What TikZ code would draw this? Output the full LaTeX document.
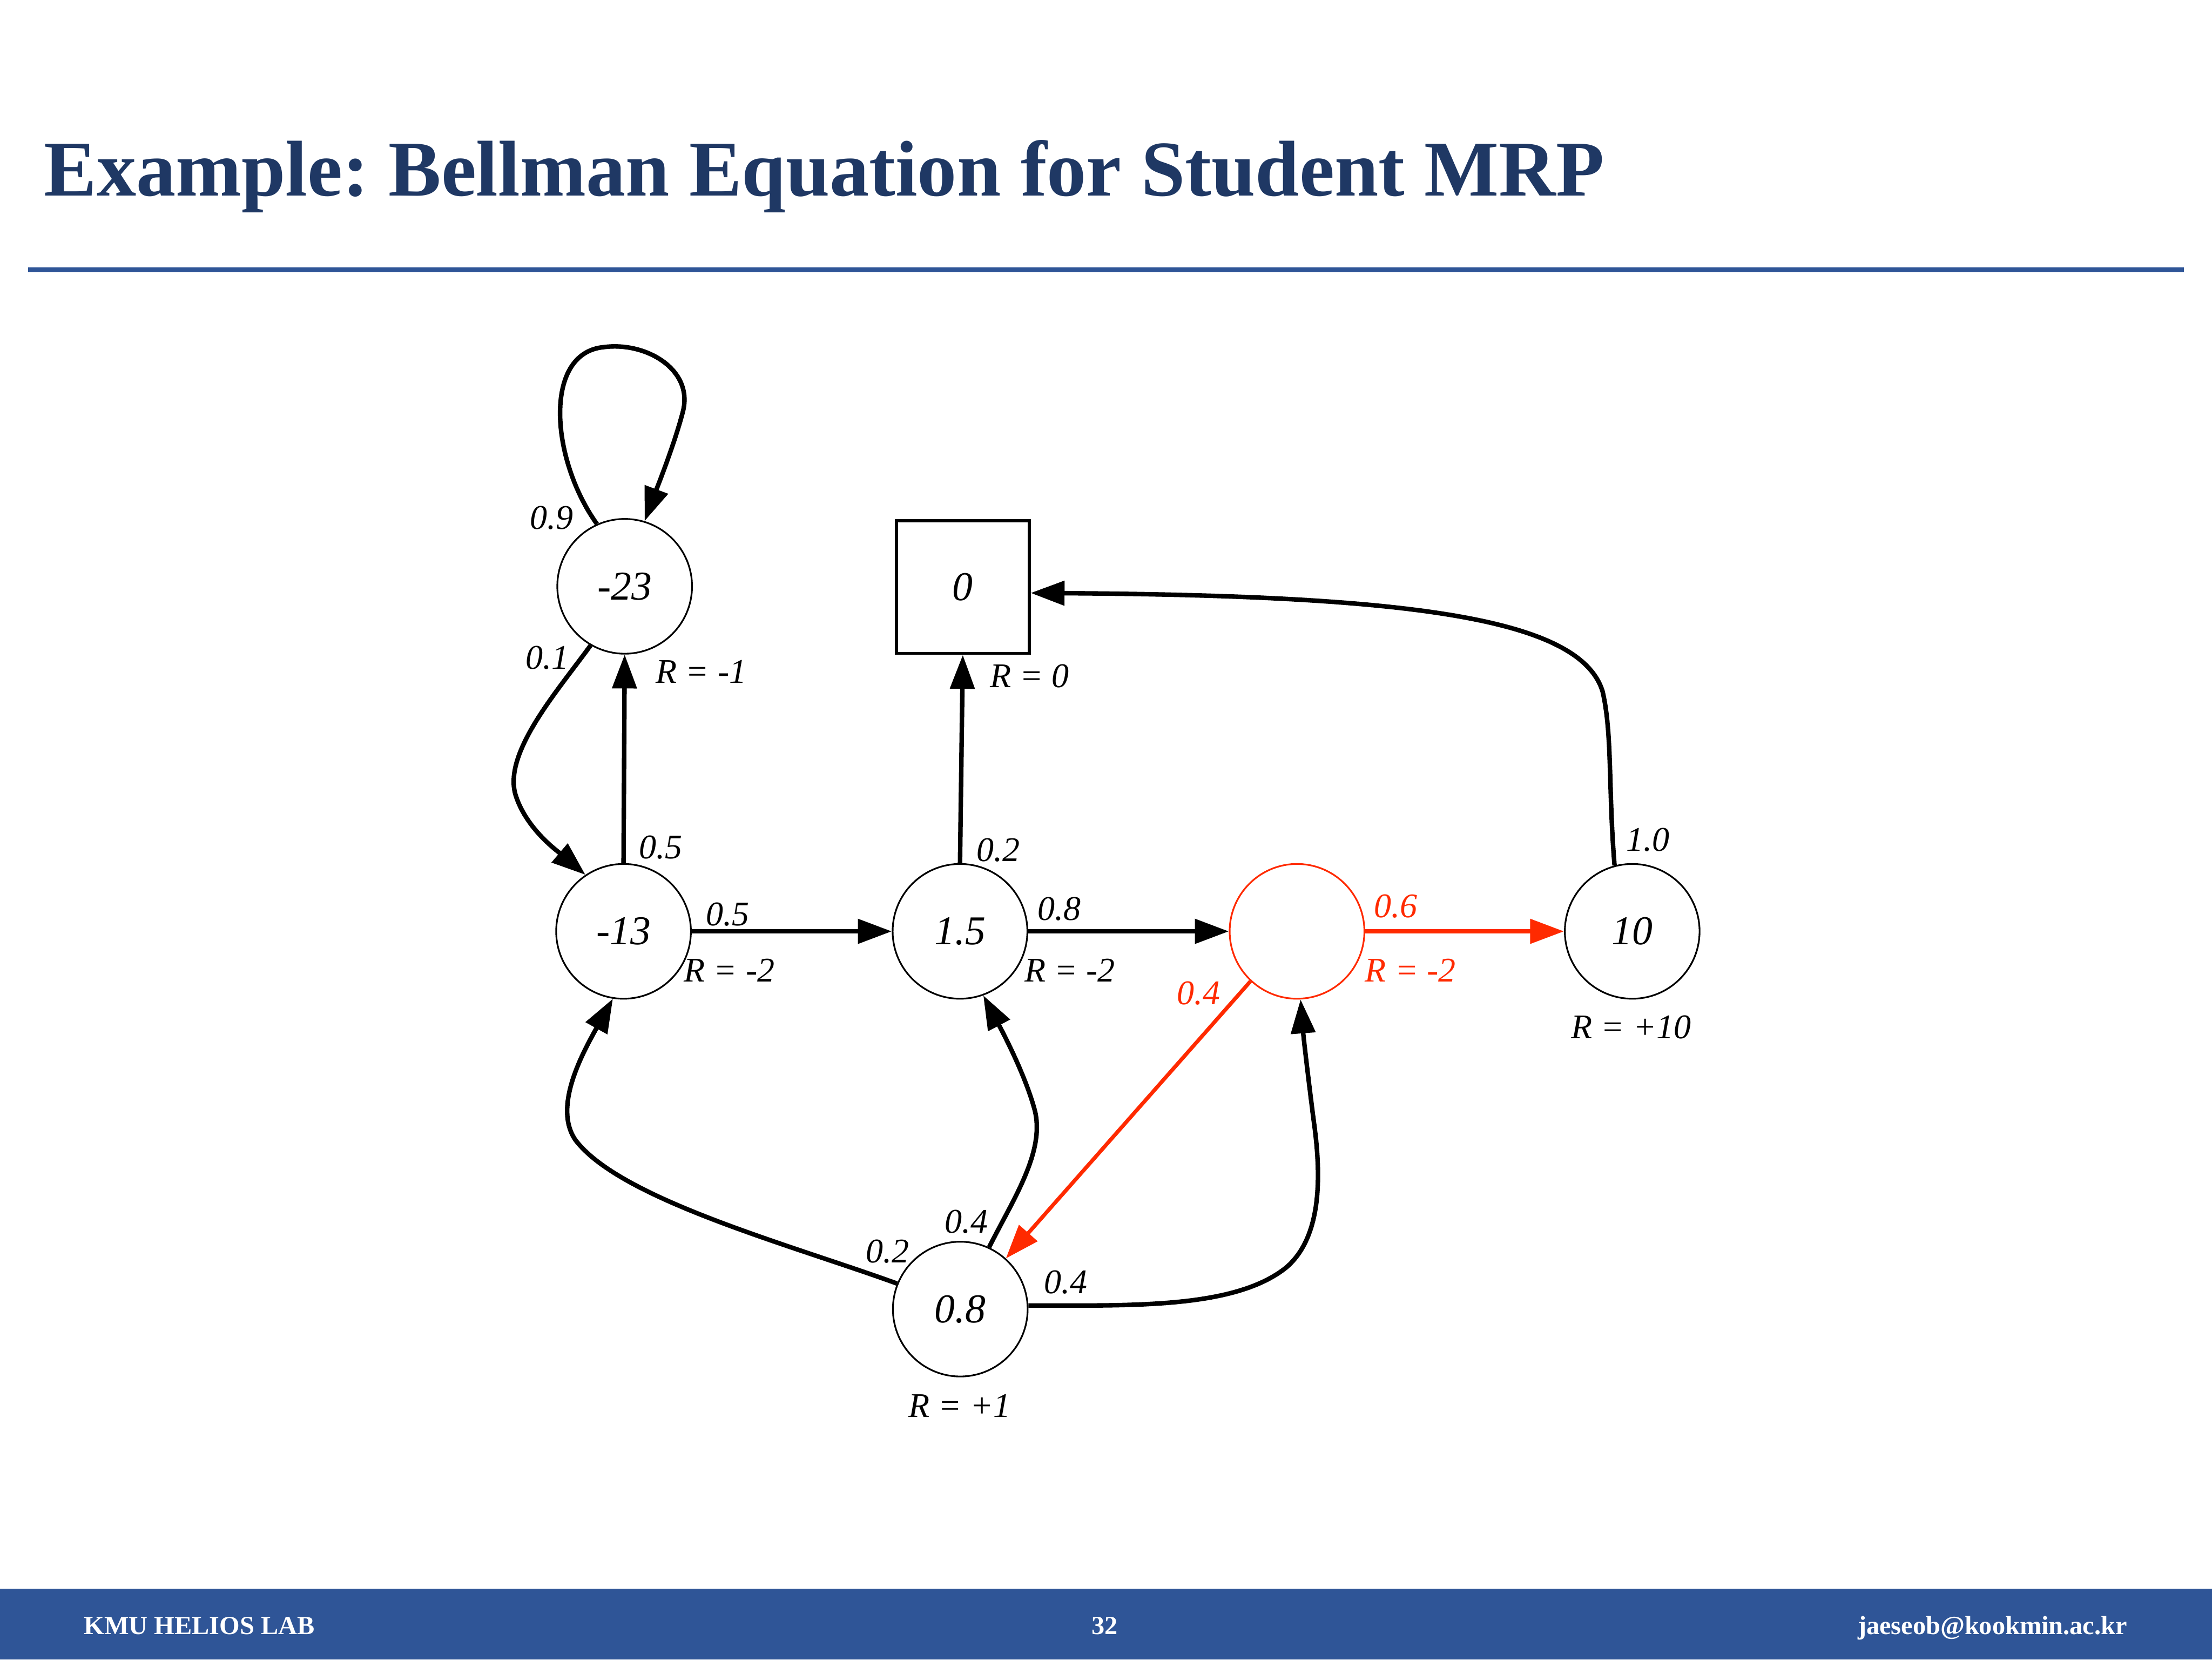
\documentclass[tikz,border=0pt]{standalone}
\usepackage{fontspec}
\setmainfont{Liberation Serif}
\usetikzlibrary{arrows.meta}
\definecolor{titleblue}{RGB}{31,56,100}
\definecolor{barblue}{RGB}{47,85,151}
\definecolor{hot}{RGB}{255,42,0}
\tikzset{
  state/.style={circle,draw,line width=1.2pt,minimum size=95.5pt,inner sep=0pt,
    font=\fontsize{29}{30}\selectfont\itshape},
  term/.style={rectangle,draw,line width=2.2pt,minimum size=94pt,inner sep=0pt,
    font=\fontsize{29}{30}\selectfont\itshape},
  link/.style={line width=3.2pt,-{Triangle[length=24pt,width=17pt]}},
  lbl/.style={inner sep=0pt,anchor=base west,font=\fontsize{24.5}{26}\selectfont\itshape},
  foot/.style={inner sep=0pt,text=white,font=\bfseries\fontsize{18.5}{20}\selectfont},
}
\frenchspacing
\begin{document}
\begin{tikzpicture}[x=1pt,y=-1pt]
\useasboundingbox (0,0) rectangle (1568,1176);
\fill[white] (0,0) rectangle (1568,1176);
% title and rule
\node[inner sep=0pt,anchor=base west,text=titleblue,font=\bfseries\fontsize{56}{60}\selectfont]
  (title) at (31,138.8) {Example: Bellman Equation for Student MRP};
\fill[barblue] (20,189.3) rectangle (1548,193);
% footer
\fill[barblue] (0,1126) rectangle (1568,1176);
\node[foot,anchor=base west] (f1) at (59.4,1158) {KMU HELIOS LAB};
\node[foot,anchor=base] (f2) at (783,1158) {32};
\node[foot,anchor=base east] (f3) at (1508,1158) {jaeseob@kookmin.ac.kr};
% states
\node[state] (n23) at (442.8,415.5) {-23};
\node[term] (box) at (682.5,416) {0};
\node[state] (n13) at (442,660) {-13};
\node[state] (n15) at (680.5,660) {1.5};
\node[state,draw=hot] (pass) at (919.4,660) {};
\node[state] (n10) at (1157,660) {10};
\node[state] (pub) at (680.7,927.7) {0.8};
% connectors
\draw[link] (n23.114) .. controls (390,325) and (385,250) .. (428,246)
  .. controls (458,242) and (492,262) .. (484,292)
  .. controls (478,315) and (466,345) .. (n23.73.5);
\draw[link] (n23.240.5) .. controls (395,490) and (355,535) .. (366,565)
  .. controls (374,588) and (395,603) .. (n13.124.6);
\draw[link] (n13.north) -- (n23.south);
\draw[link] (n13.east) -- (n15.west);
\draw[link] (n15.north) -- (box.south);
\draw[link] (n15.east) -- (pass.west);
\draw[link,hot] (pass.east) -- (n10.west);
\draw[link] (n10.105.7) .. controls (1140,560) and (1143,520) .. (1136,490)
  .. controls (1120,438) and (1000,422) .. (box.-5.6);
\draw[link,hot,line width=2.7pt] (pass.227.6) -- (pub.48.2);
\draw[link] (pub.158.1) .. controls (560,882) and (440,850) .. (408,808)
  .. controls (392,785) and (412,748) .. (n13.261.1);
\draw[link] (pub.65.9) .. controls (718,850) and (742,815) .. (733,785)
  .. controls (726,760) and (710,730) .. (n15.290.5);
\draw[link] (pub.3.6) .. controls (800,925) and (875,928) .. (912,898)
  .. controls (935,878) and (937,840) .. (932,800)
  .. controls (928,770) and (924,735) .. (pass.273.5);
% labels
\node[lbl] (l1) at (375.6,374.8) {0.9};
\node[lbl] (l2) at (372.5,474) {0.1};
\node[lbl] (l3) at (464.8,484.2) {R = -1};
\node[lbl] (l4) at (701.7,487) {R = 0};
\node[lbl] (l5) at (453,608.6) {0.5};
\node[lbl] (l6) at (500.2,655.8) {0.5};
\node[lbl] (l7) at (484.7,695.6) {R = -2};
\node[lbl] (l8) at (692,610.4) {0.2};
\node[lbl] (l9) at (735.4,652.1) {0.8};
\node[lbl] (l10) at (726.1,695.6) {R = -2};
\node[lbl,text=hot] (l11) at (973.7,650.3) {0.6};
\node[lbl,text=hot] (l12) at (967.5,695.6) {R = -2};
\node[lbl] (l13) at (1152.5,603) {1.0};
\node[lbl] (l14) at (1113.7,735.8) {R = +10};
\node[lbl,text=hot,anchor=base east] (l15) at (865,711.8) {0.4};
\node[lbl] (l16) at (613.8,894.8) {0.2};
\node[lbl] (l17) at (669.5,873.9) {0.4};
\node[lbl] (l18) at (740,916.5) {0.4};
\node[lbl] (l19) at (643.7,1004.3) {R = +1};
\end{tikzpicture}
\end{document}
